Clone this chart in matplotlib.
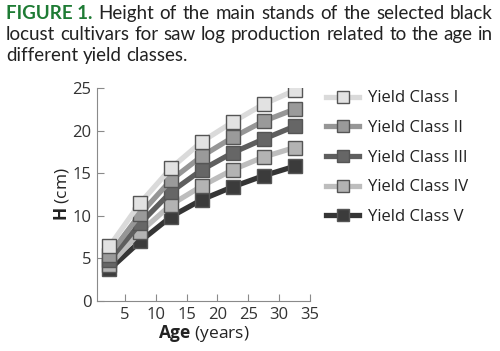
import matplotlib

matplotlib.use("Agg")
import matplotlib.pyplot as plt

plt.rcParams["font.family"] = ["Open Sans", "DejaVu Sans"]
plt.rcParams["mathtext.fontset"] = "custom"
plt.rcParams["mathtext.rm"] = "Open Sans"
plt.rcParams["mathtext.bf"] = "Open Sans:bold"

# data
age = [2.5, 7.5, 12.5, 17.5, 22.5, 27.5, 32.5]
class_i = [6.4, 11.5, 15.6, 18.7, 21.0, 23.1, 24.7]
class_ii = [5.4, 10.2, 14.2, 17.0, 19.2, 21.1, 22.5]
class_iii = [4.8, 9.1, 12.8, 15.4, 17.4, 19.0, 20.5]
class_iv = [4.2, 8.1, 11.3, 13.5, 15.4, 16.9, 18.0]
class_v = [3.7, 7.0, 9.9, 11.9, 13.4, 14.7, 15.8]
labels = ["Yield Class I", "Yield Class II", "Yield Class III",
          "Yield Class IV", "Yield Class V"]

title_lines = [
    ["FIGURE 1.", "Height", "of", "the", "main", "stands", "of", "the",
     "selected", "black"],
    ["locust", "cultivars", "for", "saw", "log", "production", "related",
     "to", "the", "age", "in"],
    ["different", "yield", "classes."],
]

series = [class_i, class_ii, class_iii, class_iv, class_v]
fills = ["#e2e2e2", "#9a9a9a", "#666666", "#b3b3b3", "#3b3b3b"]
lines = ["#dadada", "#969696", "#5e5e5e", "#bdbdbd", "#353535"]

fig = plt.figure(figsize=(5.0, 3.51), dpi=100)
ax = fig.add_axes([0.194, 0.1425, 0.426, 0.607])

for i in reversed(range(len(series))):
    ax.plot(age, series[i], color=lines[i], lw=3.8, marker="s", ms=10,
            mfc=fills[i], mec="#555555", mew=1.0, label=labels[i],
            zorder=3 + (5 - i))

ax.set_xlim(0.5, 35)
ax.set_ylim(0, 25)
ax.set_xticks([5, 10, 15, 20, 25, 30, 35])
ax.set_yticks([0, 5, 10, 15, 20, 25])
for side in ("top", "right"):
    ax.spines[side].set_visible(False)
for side in ("left", "bottom"):
    ax.spines[side].set_color("#8a8a8a")
ax.tick_params(direction="in", length=5, color="#8a8a8a", labelsize=12,
               labelcolor="#333333", pad=4)
ax.set_xlabel(r"$\mathbf{Age}$ (years)", fontsize=12.5, color="#222222",
              labelpad=0)
ax.set_ylabel(r"$\mathbf{H}$ (cm)", fontsize=12.5, color="#222222",
              labelpad=1)

handles, hl = ax.get_legend_handles_labels()
order = sorted(range(len(hl)), key=lambda k: labels.index(hl[k]))
leg = fig.legend([handles[k] for k in order], [hl[k] for k in order],
                 loc="upper left", bbox_to_anchor=(0.622, 0.785),
                 frameon=False, fontsize=12, handlelength=2.0,
                 labelspacing=0.82, handletextpad=0.5, markerscale=0.85)
for t in leg.get_texts():
    t.set_color("#222222")

# justified caption
fig.canvas.draw()
renderer = fig.canvas.get_renderer()
x0, x1 = 6, 493
baselines = [19, 40, 61]
cap_font = ["Lato", "DejaVu Sans"]
for li, words in enumerate(title_lines):
    texts = []
    for w in words:
        if w.startswith("FIGURE"):
            t = fig.text(0, 0, w, fontsize=13.5, color="#1e7b34",
                         fontweight="bold", family=cap_font, transform=None)
        else:
            t = fig.text(0, 0, w, fontsize=13.5, color="#222222",
                         family=cap_font, transform=None)
        texts.append(t)
    widths = [t.get_window_extent(renderer).width for t in texts]
    space = renderer.get_text_width_height_descent(" ", texts[1].get_fontproperties(), False)[0]
    if li < 2:
        gap = (x1 - x0 - sum(widths)) / (len(words) - 1)
    else:
        gap = space
    x = x0
    y = 351 - baselines[li]
    for t, w in zip(texts, widths):
        t.set_position((x, y))
        t.set_va("baseline")
        x += w + gap

fig.savefig("out.png", dpi=100)
